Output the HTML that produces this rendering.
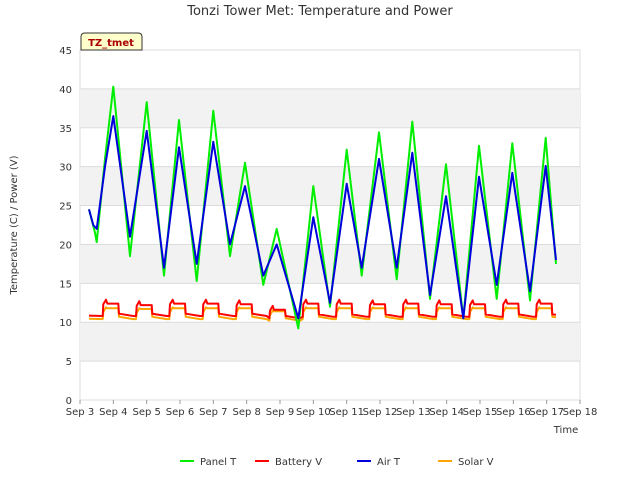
<!DOCTYPE html>
<html><head><meta charset="utf-8"><style>
body{margin:0;background:#fff;font-family:"Liberation Sans","DejaVu Sans",sans-serif}
svg text{font-family:"DejaVu Sans","Liberation Sans",sans-serif}
</style></head><body>
<svg id="c" width="640" height="480" viewBox="0 0 640 480"></svg>
<script>
const xTicks=["Sep 3","Sep 4","Sep 5","Sep 6","Sep 7","Sep 8","Sep 9","Sep 10","Sep 11","Sep 12","Sep 13","Sep 14","Sep 15","Sep 16","Sep 17","Sep 18"];
const yTicks=[0,5,10,15,20,25,30,35,40,45];
const panelDays=[3.27,3.45,3.5,3.75,4.0,4.5,5.0,5.52,5.97,6.5,7.0,7.5,7.95,8.5,8.9,9.55,10.0,10.5,11.0,11.45,11.97,12.5,12.97,13.5,13.98,14.5,14.97,15.5,15.97,16.5,16.97,17.28];
const panelT=[24.5,21.5,20.3,31,40.3,18.5,38.3,16,36,15.3,37.2,18.5,30.5,14.8,22,9.2,27.5,12,32.2,16,34.4,15.5,35.8,13,30.3,10.5,32.7,13,33,12.8,33.7,17.5];
const airDays=[3.27,3.4,3.5,3.75,4.0,4.5,5.0,5.52,5.97,6.5,7.0,7.5,7.95,8.5,8.9,9.55,10.0,10.5,11.0,11.45,11.97,12.5,12.97,13.5,13.98,14.5,14.97,15.5,15.97,16.5,16.97,17.28];
const airT=[24.5,22.5,22,30,36.5,21,34.6,17,32.5,17.5,33.2,20,27.5,16,20,10.5,23.5,12.5,27.8,17,31,17,31.8,13.5,26.2,10.5,28.7,14.8,29.2,14,30.1,18];
const dayIdx=[4,5,6,7,8,9,10,11,12,13,14,15,16,17];
const batteryPeak=[12.9,12.7,12.9,12.9,12.8,12.1,12.9,12.9,12.8,12.9,12.8,12.8,12.9,12.9];
const batteryBase=[10.8,10.8,10.8,10.8,10.8,10.5,10.7,10.7,10.7,10.7,10.7,10.7,10.7,10.7];
const solarPeak=[11.9,11.8,11.9,11.9,11.9,11.5,11.9,11.9,11.9,11.9,11.9,11.9,11.9,11.9];
const solarBase=[10.4,10.4,10.4,10.4,10.4,10.2,10.4,10.4,10.4,10.4,10.4,10.4,10.4,10.4];
const NS="http://www.w3.org/2000/svg",svg=document.getElementById('c');
const X0=80,X1=580,Y0=400,Y1=50,END=17.28;
const xs=d=>X0+(d-3)*(X1-X0)/15, ys=v=>Y0-v*(Y0-Y1)/45;
function mk(t,a,p){const e=document.createElementNS(NS,t);for(const k in a)e.setAttribute(k,a[k]);(p||svg).appendChild(e);return e;}
let bg=mk('rect',{x:X0,y:Y1,width:X1-X0,height:Y0-Y1,fill:'#fff',stroke:'#ddd'});

for(let i=0;i<9;i++){if(i%2===1){let r=mk('rect',{x:X0,y:ys(yTicks[i+1]),width:X1-X0,height:ys(yTicks[i])-ys(yTicks[i+1]),fill:'#f2f2f2'});}}
yTicks.forEach(v=>{let l=mk('line',{x1:X0,x2:X1,y1:ys(v),y2:ys(v),stroke:'#dcdcdc'});
let t=mk('text',{x:X0-8,y:ys(v)+4,'text-anchor':'end','font-size':10,fill:'#333'});t.textContent=v;});
xTicks.forEach((s,i)=>{let l=mk('line',{x1:xs(3+i),x2:xs(3+i),y1:Y0,y2:Y0+4,stroke:'#999'});
let t=mk('text',{x:xs(3+i),y:Y0+15,'text-anchor':'middle','font-size':10,fill:'#333'});t.textContent=s;});
function line(d,v,col,name){const pts=d.map((dd,i)=>xs(dd).toFixed(1)+','+ys(v[i]).toFixed(1)).join(' ');let p=mk('polyline',{points:pts,fill:'none',stroke:col,'stroke-width':2,'stroke-linejoin':'round'});}
function stepSeries(peak,base,col,name,drop){const d=[3.27],v=[base[0]+0.05];
dayIdx.forEach((day,i)=>{const cand=[[day-0.32,base[i]],[day-0.3,peak[i]-0.6],[day-0.22,peak[i]],[day-0.18,peak[i]-drop],[day+0.15,peak[i]-drop],[day+0.17,base[i]+0.3],[day+0.6,base[i]]];
cand.forEach(c=>{if(c[0]<=END){d.push(c[0]);v.push(c[1]);}});});
d.push(END);v.push(base[base.length-1]+0.25);line(d,v,col,name);}
stepSeries(solarPeak,solarBase,'#ffa500','solar-v-line',0.1);
stepSeries(batteryPeak,batteryBase,'#ff0000','battery-v-line',0.5);
line(panelDays,panelT,'#00ee00','panel-t-line');
line(airDays,airT,'#0000dd','air-t-line');
let ti=mk('text',{x:320,y:15,'text-anchor':'middle','font-size':13,fill:'#333'});ti.textContent='Tonzi Tower Met: Temperature and Power';
let yl=mk('text',{x:17,y:225,'text-anchor':'middle','font-size':10,fill:'#333',transform:'rotate(-90 17 225)'});yl.textContent='Temperature (C) / Power (V)';
let xl=mk('text',{x:566,y:433,'text-anchor':'middle','font-size':10,fill:'#333'});xl.textContent='Time';
let g=mk('g',{});
mk('path',{d:'M81,50 L81,37 Q81,33 85,33 L138,33 Q142,33 142,37 L142,50 Z',fill:'#ffffcc',stroke:'#333'},g);
let tz=mk('text',{x:111,y:46,'text-anchor':'middle','font-size':10,'font-weight':'bold',fill:'#aa0000'},g);tz.textContent='TZ_tmet';
const legNames=['Panel T','Battery V','Air T','Solar V'],legCols=['#00ee00','#ff0000','#0000dd','#ffa500'],legX=[180,255,357,438];
legNames.forEach((n,i)=>{let gg=mk('g',{});
mk('line',{x1:legX[i],x2:legX[i]+14,y1:461,y2:461,stroke:legCols[i],'stroke-width':2},gg);
let t=mk('text',{x:legX[i]+20,y:465,'font-size':10,fill:'#333'},gg);t.textContent=n;});
</script>
</body></html>
